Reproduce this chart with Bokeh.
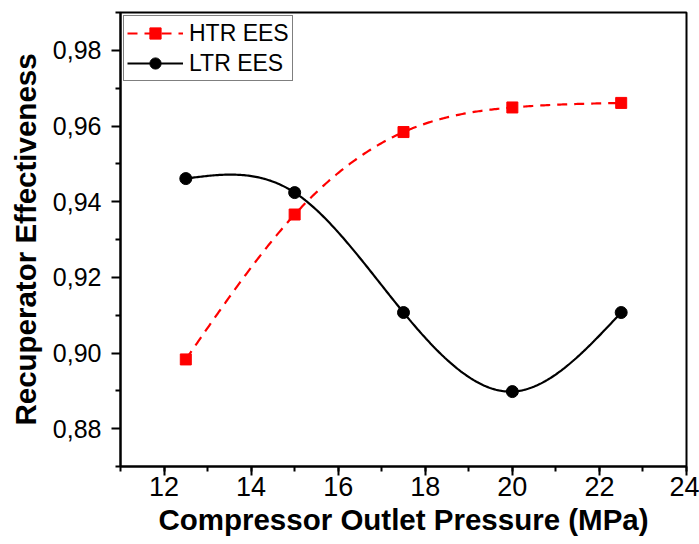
import numpy as np
from bokeh.plotting import figure
from bokeh.models import Range1d, SingleIntervalTicker, FixedTicker, CustomJSTickFormatter, Legend, LegendItem
from bokeh.embed import file_html
from bokeh.resources import INLINE

pressure = [12.5, 15.0, 17.5, 20.0, 22.5]
htr_ees = [0.8983, 0.9366, 0.9584, 0.9649, 0.9661]
ltr_ees = [0.9461, 0.9424, 0.9107, 0.8898, 0.9107]
y_major = [0.88, 0.90, 0.92, 0.94, 0.96, 0.98]
y_minor = [0.87, 0.89, 0.91, 0.93, 0.95, 0.97, 0.99]


def natural_spline(xs, ys, n=300):
    x = np.asarray(xs, float)
    y = np.asarray(ys, float)
    k = len(x)
    h = np.diff(x)
    A = np.zeros((k, k))
    b = np.zeros(k)
    A[0, 0] = 1
    A[-1, -1] = 1
    for i in range(1, k - 1):
        A[i, i - 1] = h[i - 1]
        A[i, i] = 2 * (h[i - 1] + h[i])
        A[i, i + 1] = h[i]
        b[i] = 6 * ((y[i + 1] - y[i]) / h[i] - (y[i] - y[i - 1]) / h[i - 1])
    M = np.linalg.solve(A, b)
    xx = np.linspace(x[0], x[-1], n)
    idx = np.clip(np.searchsorted(x, xx) - 1, 0, k - 2)
    x0, x1 = x[idx], x[idx + 1]
    hh = x1 - x0
    t0, t1 = x1 - xx, xx - x0
    yy = (M[idx] * t0**3 + M[idx + 1] * t1**3) / (6 * hh) \
        + (y[idx] / hh - M[idx] * hh / 6) * t0 \
        + (y[idx + 1] / hh - M[idx + 1] * hh / 6) * t1
    return xx, yy


p = figure(width=699, height=544, output_backend="svg", toolbar_location=None,
           x_range=Range1d(11, 24), y_range=Range1d(0.87, 0.99),
           min_border_left=120, min_border_right=13, min_border_top=12, min_border_bottom=78)
p.background_fill_color = "white"
p.border_fill_color = "white"
p.outline_line_color = "black"
p.outline_line_width = 2
p.xgrid.visible = False
p.ygrid.visible = False

font = "Liberation Sans"
for ax in (p.xaxis[0], p.yaxis[0]):
    ax.axis_line_width = 2
    ax.major_tick_line_width = 2
    ax.minor_tick_line_width = 2
    ax.major_tick_in = 0
    ax.major_tick_out = 9
    ax.minor_tick_in = 0
    ax.minor_tick_out = 5
    ax.major_label_text_font = font
    ax.axis_label_text_font = font
    ax.axis_label_text_font_style = "bold"
    ax.axis_label_text_font_size = "29.5px"
    ax.major_label_text_color = "black"
    ax.axis_label_text_color = "black"

p.xaxis.ticker = SingleIntervalTicker(interval=2, num_minor_ticks=2)
p.xaxis.major_label_text_font_size = "27px"
p.xaxis.major_label_standoff = 1
p.xaxis.axis_label = "Compressor Outlet Pressure (MPa)"
p.xaxis.axis_label_standoff = 4

p.yaxis.ticker = FixedTicker(ticks=y_major, minor_ticks=y_minor)
p.yaxis.formatter = CustomJSTickFormatter(code="return tick.toFixed(2).replace('.', ',');")
p.yaxis.major_label_text_font_size = "25px"
p.yaxis.major_label_standoff = 10
p.yaxis.axis_label = "Recuperator Effectiveness"
p.yaxis.axis_label_standoff = 8

hx, hy = natural_spline(pressure, htr_ees)
lx, ly = natural_spline(pressure, ltr_ees)

r1 = p.line(hx, hy, line_color="#ff0000", line_width=2.2, line_dash="10 7")
r2 = p.scatter(pressure, htr_ees, marker="square", size=11, fill_color="#ff0000", line_color="#ff0000")
r3 = p.line(lx, ly, line_color="black", line_width=2.2)
r4 = p.scatter(pressure, ltr_ees, marker="circle", size=12, fill_color="black", line_color="black")

legend = Legend(items=[LegendItem(label="HTR EES", renderers=[r1, r2]),
                       LegendItem(label="LTR EES", renderers=[r3, r4])],
                location="top_left")
legend.label_text_font = font
legend.label_text_font_size = "23px"
legend.label_text_color = "black"
legend.glyph_width = 56
legend.glyph_height = 28
legend.label_height = 28
legend.spacing = 2
legend.padding = 3
legend.margin = 3
legend.label_standoff = 6
legend.border_line_color = "black"
legend.border_line_width = 1.5
legend.background_fill_alpha = 1
p.add_layout(legend, "center")

open("out.html", "w").write(file_html(p, INLINE))
